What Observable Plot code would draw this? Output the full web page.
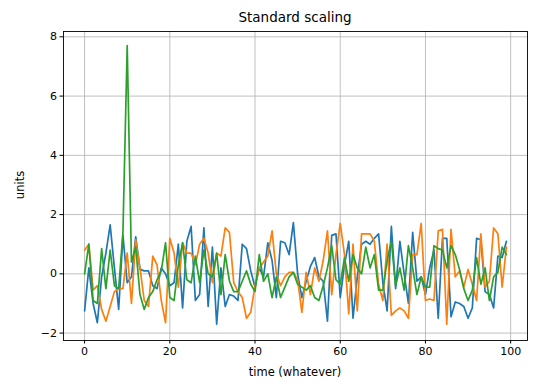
<!DOCTYPE html>
<html><head><meta charset="utf-8">
<script src="https://cdn.jsdelivr.net/npm/d3@7"></script>
<script src="https://cdn.jsdelivr.net/npm/@observablehq/plot@0.6"></script>
<style>
body{margin:0;background:#fff;font-family:"DejaVu Sans",sans-serif;}
#wrap{position:relative;width:540px;height:384px;}
.lbl{position:absolute;color:#000;white-space:nowrap;}
</style></head><body>
<div id="wrap">
<div class="lbl" style="left:63px;width:464px;top:8px;text-align:center;font-size:13.5px;line-height:18px;">Standard scaling</div>
<div class="lbl" style="left:63px;width:464px;top:364px;text-align:center;font-size:11.5px;line-height:16px;">time (whatever)</div>
<div class="lbl" style="left:20px;top:185px;font-size:11.5px;line-height:16px;transform:translate(-50%,-50%) rotate(-90deg);">units</div>
<div id="chart"></div>
</div>
<script>
const times = Array.from({length: 100}, (_, i) => i);
const xTicks = [0, 20, 40, 60, 80, 100];
const yTicks = [-2, 0, 2, 4, 6, 8];

const blue = [
-1.25, 0.2, -1.0, -1.65, -0.1, 0.7, 1.65, 0.2, -1.2, 1.3,
-0.3, -0.1, 1.25, 0.15, 0.1, 0.1, -0.4, -0.5, 0.2, 0.0,
-0.4, -0.3, 1.0, -1.15, 1.1, 1.6, -0.9, -0.7, 1.55, -1.1,
0.9, -1.7, 0.2, -1.1, -0.7, -0.75, -0.9, 1.0, 0.85, 0.1,
-0.45, 0.2, -0.1, 1.05, 0.45, -0.8, 1.1, 1.05, 0.65, 1.73,
0.0, -0.8, -0.25, 0.25, 0.55, -0.1, -0.25, -1.6, 1.3, 1.35,
-0.8, 0.3, 1.1, -1.5, -0.1, 1.0, 1.1, 1.0, 1.2, 1.35,
-0.3, -1.25, 1.6, -0.5, 1.1, 0.0, -1.0, 1.4, -0.25, -0.1,
-0.7, 0.2, 0.8, -1.5, 1.2, 1.2, -1.45, -0.95, -1.0, -1.1,
-1.5, -1.15, 1.2, 1.15, -0.6, -0.7, -1.15, 0.6, 0.55, 1.1
];
const orange = [
0.8, 1.0, -0.55, -0.4, -1.2, -1.6, -1.1, -0.6, -0.5, -0.5,
0.7, -1.0, 1.15, 0.2, -0.9, -1.1, 0.6, 0.3, -0.9, -1.65,
1.2, 0.7, -0.45, 1.05, 0.7, 0.7, 0.3, 1.0, 1.2, 0.7,
-0.3, 0.7, 0.6, 1.55, 1.4, -0.3, -0.6, -0.8, -1.5, -1.3,
-0.4, 0.2, 0.4, 0.6, 1.45, 0.0, -0.4, -0.1, 0.05, 0.05,
-0.2, -1.3, 0.05, -0.7, 0.2, -0.25, 0.45, 1.45, -0.7, 0.65,
1.7, 0.65, -1.35, 1.0, -1.25, 1.35, 1.35, 1.35, 1.1, -0.35,
-0.9, 1.0, -1.4, -1.25, -1.15, -1.25, -1.5, 0.65, 0.65, 1.7,
-0.9, -0.85, -0.9, 1.45, 1.5, -1.7, 1.5, -0.1, 0.1, -0.45,
0.15, -0.35, -0.9, 1.35, -0.45, -0.25, 1.55, 1.35, -0.45, 0.9
];
const green = [
0.0, 1.0, -0.9, -1.0, 0.85, -0.5, 0.8, -0.4, -0.5, 1.4,
7.7, 0.4, 0.9, -0.7, -1.2, -0.8, -0.6, -0.2, 0.1, 1.05,
-0.8, -0.9, 0.3, 1.05, -0.2, -0.3, 0.6, -0.3, 0.8, 0.0,
-0.1, 0.7, -0.7, 0.65, -0.25, -0.6, -0.6, -0.25, 0.1, -0.35,
-0.6, 0.65, -0.25, 0.0, -0.8, -0.1, -0.8, -0.45, -0.1, 0.05,
-0.35, -0.45, -0.55, -0.4, -0.8, -0.9, -0.4, 0.2, 0.95, -0.2,
-0.35, 0.55, -0.25, 0.65, 0.2, 0.0, 0.9, 0.2, 0.65, -0.55,
-0.55, 0.45, 1.1, -0.4, 0.2, -0.55, 0.95, 0.2, -0.7, -0.1,
-0.45, -0.45, 0.95, 0.85, 0.8, 0.2, 0.95, 0.65, 0.15, -0.5,
-0.9, -0.55, 0.55, -0.35, 0.2, -0.9, -0.1, 0.05, 0.9, 0.65
];

const seriesDefs = [
  {name: "a", values: blue, color: "#1f77b4"},
  {name: "b", values: orange, color: "#ff7f0e"},
  {name: "c", values: green, color: "#2ca02c"}
];

const lineMarks = seriesDefs.map(s =>
  Plot.line(times.map((t, i) => ({t, v: s.values[i]})), {
    x: "t", y: "v", stroke: s.color, strokeWidth: 1.7, strokeLinejoin: "round"
  })
);

const chart = Plot.plot({
  width: 540,
  height: 384,
  marginLeft: 63,
  marginRight: 13,
  marginTop: 31,
  marginBottom: 44,
  x: {domain: [-4.95, 103.95]},
  y: {domain: [-2.25, 8.18]},
  style: {fontFamily: "DejaVu Sans, sans-serif", fontSize: "11px", color: "#000", background: "#fff", overflow: "visible"},
  marks: [
    Plot.gridX({ticks: xTicks, stroke: "#b0b0b0", strokeOpacity: 1, strokeWidth: 0.8}),
    Plot.gridY({ticks: yTicks, stroke: "#b0b0b0", strokeOpacity: 1, strokeWidth: 0.8}),
    ...lineMarks,
    Plot.frame({stroke: "#000", strokeWidth: 0.9}),
    Plot.axisX({ticks: xTicks, tickSize: 3.5, tickPadding: 3, label: null, stroke: "#000"}),
    Plot.axisY({ticks: yTicks, tickSize: 3.5, tickPadding: 3, label: null, stroke: "#000"})
  ]
});
document.getElementById("chart").appendChild(chart);
</script>
</body></html>
